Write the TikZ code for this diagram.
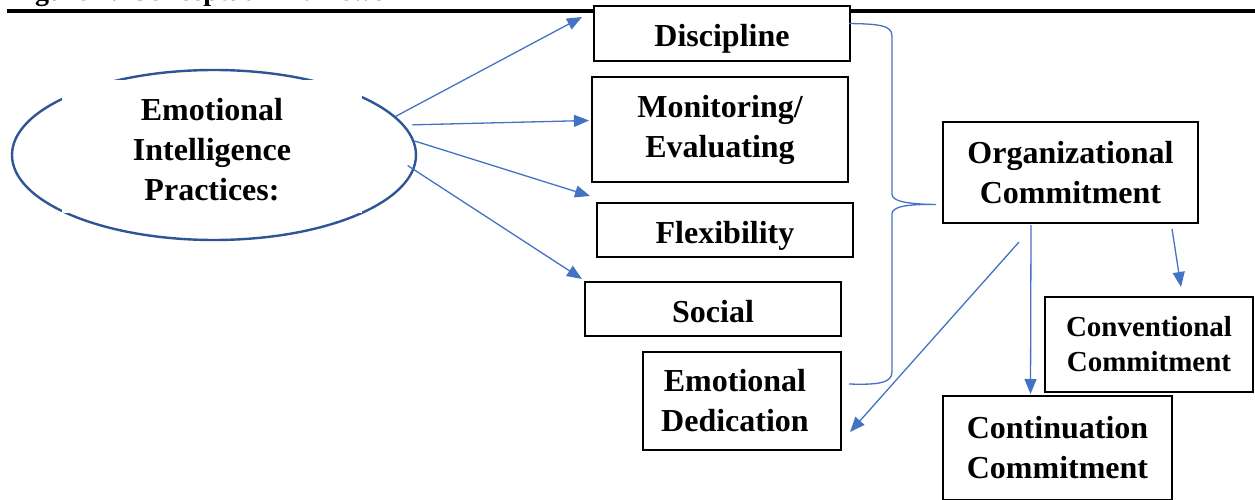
\documentclass[tikz,border=0pt]{standalone}
\usepackage{fontspec}
\setmainfont{Liberation Serif}
\usetikzlibrary{arrows.meta,calc,shapes.geometric}
\definecolor{arrblue}{HTML}{4472C4}
\definecolor{ellblue}{HTML}{2F5597}
\tikzset{
  box/.style={draw=black,line width=2pt,fill=white,inner sep=0pt,align=center,
    font=\bfseries\fontsize{32}{40}\selectfont},
  onebox/.style={box,text height=26pt,text depth=0pt},
  lbl/.style={inner sep=0pt,align=center,font=\bfseries\fontsize{32}{40}\selectfont},
  conn/.style={draw=arrblue,line width=1.3pt,-{Triangle[length=15pt,width=12pt]}},
  brace/.style={draw=arrblue,line width=1.3pt},
}
\begin{document}
\begin{tikzpicture}[x=1pt,y=-1pt]
\useasboundingbox (0,0) rectangle (1255,500);
\clip (0,0) rectangle (1255,500);
\fill[white] (0,0) rectangle (1255,500);
% title (cut off) and rule
\node[anchor=base west,inner sep=0pt,font=\bfseries\fontsize{28}{32}\selectfont] (title) at (10,0.5) {Figure 1: Conceptual Framework};
\draw[line width=3.4pt] (7,11) -- (1255,11);
% ellipse
\node[draw=ellblue,line width=2.4pt,ellipse,minimum width=404pt,minimum height=170pt,inner sep=0pt] (ei) at (214,155) {};
\fill[white] (62,80) rectangle (362,213);
\node[lbl] (eit) at (212,150) {Emotional\\Intelligence\\Practices:};
% boxes
\node[onebox,minimum width=256pt,minimum height=55pt] (disc) at (722,33.5) {Discipline};
\node[box,minimum width=256pt,minimum height=105pt] (mon) at (720,129.5) {Monitoring/\\Evaluating};
\node[onebox,minimum width=256pt,minimum height=54pt] (flex) at (725,230) {Flexibility};
\node[onebox,minimum width=256pt,minimum height=54pt] (soc) at (713,309) {Social};
\node[box,minimum width=198pt,minimum height=98pt,text width=190pt] (ed) at (742,401) {\hspace*{-14pt}Emotional\\\hspace*{-14pt}Dedication};
\node[box,minimum width=255pt,minimum height=101pt] (org) at (1070.5,172.5) {Organizational\\Commitment};
\node[box,minimum width=208pt,minimum height=95pt,font=\bfseries\fontsize{29}{35}\selectfont] (conv) at (1149,344.5) {Conventional\\Commitment};
\node[box,minimum width=229pt,minimum height=104pt] (cont) at (1057.5,448) {Continuation\\Commitment};
% arrows from ellipse
\draw[conn] (ei.12) -- ($(disc.north west)+(-11,12)$);
\draw[conn] ([xshift=8pt]ei.9) -- ($(mon.west)+(-2,-9)$);
\draw[conn] (ei.4) -- ($(flex.north west)+(-6,-6)$);
\draw[conn] ([xshift=-8pt]ei.-3) -- ($(soc.north west)+(-2,-2)$);
% arrows from organizational commitment
\draw[conn] ($(org.south west)+(89,1)$) -- ($(cont.north west)+(88.5,-1)$);
\draw[conn] ($(org.south west)+(230,5)$) -- ($(conv.north west)+(137,-9)$);
\draw[conn] ($(org.south west)+(77,18)$) -- ($(ed.east)+(8,31)$);
% brace
\coordinate (b1) at ($(disc.east)+(-2,-10)$);
\coordinate (btip) at ($(org.west)+(-6,32)$);
\coordinate (b2) at ($(ed.north east)+(7,33)$);
\draw[brace] (b1) .. controls (878,24) and (892,25) .. (892,36) -- (892,194)
  .. controls (892,201) and (905,204) .. (btip)
  .. controls (905,204) and (892,207) .. (892,214) -- (892,372)
  .. controls (892,383) and (878,385) .. (b2);
\end{tikzpicture}
\end{document}
